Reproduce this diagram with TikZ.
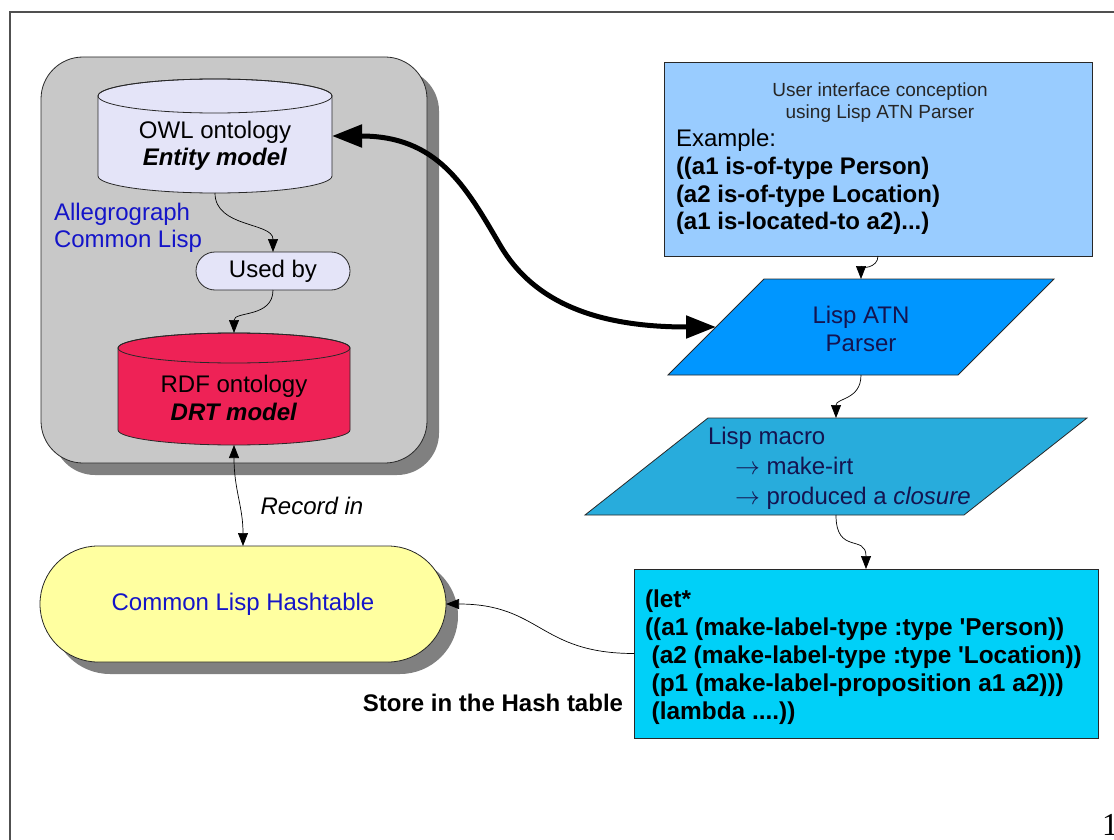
\documentclass[tikz,border=0pt]{standalone}
\usepackage{fontspec}
\setmainfont{Liberation Sans}
\newfontfamily\serifnum{Liberation Serif}
\newfontfamily\plainsans{Liberation Sans}
\usetikzlibrary{arrows.meta,shadows}
\definecolor{boxgray}{RGB}{200,200,200}
\definecolor{shadowgray}{RGB}{128,128,128}
\definecolor{lav}{RGB}{228,228,248}
\definecolor{rdfred}{RGB}{238,34,86}
\definecolor{hashyellow}{RGB}{255,255,160}
\definecolor{uiblue}{RGB}{153,204,255}
\definecolor{parserblue}{RGB}{0,150,255}
\definecolor{macroblue}{RGB}{40,172,220}
\definecolor{letcyan}{RGB}{0,208,248}
\definecolor{navytext}{RGB}{20,20,80}
\definecolor{bluetext}{RGB}{20,20,200}
\definecolor{edgegray}{RGB}{40,40,40}
\definecolor{framegray}{RGB}{80,80,80}
\begin{document}
\begin{tikzpicture}[x=1pt,y=-1pt,
  every node/.style={inner sep=0pt, outer sep=0pt},
  bigfont/.style={font=\fontsize{24}{27.5}\selectfont},
  smallfont/.style={font=\fontsize{19}{22}\selectfont},
  anchorbox/.style={draw=none, fill=none, rectangle},
  shapeline/.style={draw=edgegray, line width=0.8pt},
  boxshadow/.style={drop shadow={shadow xshift=12pt, shadow yshift=-12pt, fill=shadowgray, opacity=1}},
  thinarrow/.style={draw=black, line width=0.7pt, -{Triangle[length=13pt,width=10pt]}},
  dblarrow/.style={draw=black, line width=0.7pt, {Triangle[length=13pt,width=10pt]}-{Triangle[length=13pt,width=10pt]}},
  thickarrow/.style={draw=black, line width=5pt, {Triangle[length=30pt,width=22pt]}-{Triangle[length=30pt,width=22pt]}},
  framestyle/.style={draw=framegray, line width=2pt}
]
\useasboundingbox[fill=white] (0,0) rectangle (1114,840);

% page frame
\draw[framestyle] (10,840) -- (10,12) -- (1114,12);

% container
\node[shapeline, fill=boxgray, rounded corners=42pt, minimum width=386pt, minimum height=406pt, boxshadow] (container) at (234,260) {};

% OWL cylinder
\path[shapeline, fill=lav] (98,96) -- (98,176) arc[start angle=180, end angle=0, x radius=117, y radius=17] -- (332,96) arc[start angle=0, end angle=-180, x radius=117, y radius=17] -- cycle;
\draw[shapeline] (215,96) ellipse[x radius=117, y radius=17];
\node[anchorbox, minimum width=234pt, minimum height=114pt] (owl) at (215,136) {};
\node[bigfont, align=center] (owltext) at (215,146) {OWL ontology\\\textbf{\textit{Entity model}}};

% Allegrograph label
\node[bigfont, align=left, anchor=west, text=bluetext] (allegro) at (54,228) {Allegrograph\\Common Lisp};

% Used by
\node[shapeline, fill=lav, rounded corners=19pt, minimum width=154pt, minimum height=38pt, bigfont] (usedby) at (273,271) {Used by};

% RDF cylinder
\path[shapeline, fill=rdfred] (118,348) -- (118,430) arc[start angle=180, end angle=0, x radius=116, y radius=15] -- (350,348) arc[start angle=0, end angle=-180, x radius=116, y radius=15] -- cycle;
\draw[shapeline] (234,348) ellipse[x radius=116, y radius=15];
\node[anchorbox, minimum width=232pt, minimum height=112pt] (rdf) at (234,389) {};
\node[bigfont, align=center] (rdftext) at (234,398) {RDF ontology\\\textbf{\textit{DRT model}}};

% Hashtable
\node[shapeline, fill=hashyellow, rounded corners=58pt, minimum width=406pt, minimum height=116pt, boxshadow, bigfont, text=bluetext] (hash) at (243,604) {Common Lisp Hashtable};

% labels
\node[bigfont] (recordin) at (312,506) {\textit{Record in}};
\node[bigfont] (store) at (493,703) {\textbf{Store in the Hash table}};

% UI box
\node[shapeline, fill=uiblue, minimum width=428pt, minimum height=194pt] (ui) at (878,159) {};
\node[smallfont, align=center, text=black!85] (uititle) at (880,103) {User interface conception\\using Lisp ATN Parser};
\node[font=\fontsize{24}{27.7}\selectfont, align=left, anchor=west] (uiexample) at (676,182) {Example:\\\textbf{((a1 is-of-type Person)}\\\textbf{(a2 is-of-type Location)}\\\textbf{(a1 is-located-to a2)...)}};

% Parser parallelogram
\path[shapeline, fill=parserblue] (764,279) -- (1054,279) -- (958,375) -- (668,375) -- cycle;
\node[anchorbox, minimum width=290pt, minimum height=96pt] (parser) at (861,327) {};
\node[bigfont, align=center, text=navytext] (parsertext) at (861,329) {Lisp ATN\\Parser};

% Macro parallelogram
\path[shapeline, fill=macroblue] (708,418) -- (1087,418) -- (964,515) -- (585,515) -- cycle;
\node[anchorbox, minimum width=379pt, minimum height=97pt] (macro) at (836,466.5) {};
\node[font=\fontsize{24}{30}\selectfont, align=left, anchor=west, text=navytext] (macrotext) at (708,468) {Lisp macro\\\hspace*{27pt}$\rightarrow$ make-irt\\\hspace*{27pt}$\rightarrow$ produced a \textit{closure}};

% let box
\node[shapeline, fill=letcyan, minimum width=464pt, minimum height=169pt] (let) at (866,653.5) {};
\node[font=\plainsans\fontsize{24.4}{28}\selectfont\bfseries, align=left, anchor=west] (lettext) at (645,657) {(let*\\((a1 (make-label-type :type 'Person))\\\hspace*{6.7pt}(a2 (make-label-type :type 'Location))\\\hspace*{6.7pt}(p1 (make-label-proposition a1 a2)))\\\hspace*{6.7pt}(lambda ....))};

% page number fragment (cut by the page edge, as in the reference)
\node[anchor=base west, font=\serifnum\fontsize{32}{32}\selectfont] (pagenum) at (1102,835) {1};

% connectors
\draw[thinarrow] (owl.south) .. controls +(0,35) and +(0,-30) .. (usedby.north);
\draw[thinarrow] (usedby.south) .. controls +(0,28) and +(0,-22) .. (rdf.north);
\draw[dblarrow] (rdf.south) .. controls +(0,45) and +(0,-40) .. (hash.north);
\draw[thinarrow] (ui.south) .. controls +(0,12) and +(0,-10) .. (parser.north);
\draw[thinarrow] (parser.south) .. controls +(0,25) and +(0,-20) .. (macro.north);
\draw[thinarrow] (macro.south) .. controls +(0,40) and +(0,-35) .. ([xshift=30pt]macro.south |- let.north);
\draw[thinarrow] (let.west) .. controls +(-95,0) and +(95,0) .. (hash.east);
\draw[thickarrow] (owl.east) .. controls +(105,0) and +(-35,-60) .. (500,245) .. controls +(35,60) and +(-115,0) .. (parser.west);
\end{tikzpicture}
\end{document}
